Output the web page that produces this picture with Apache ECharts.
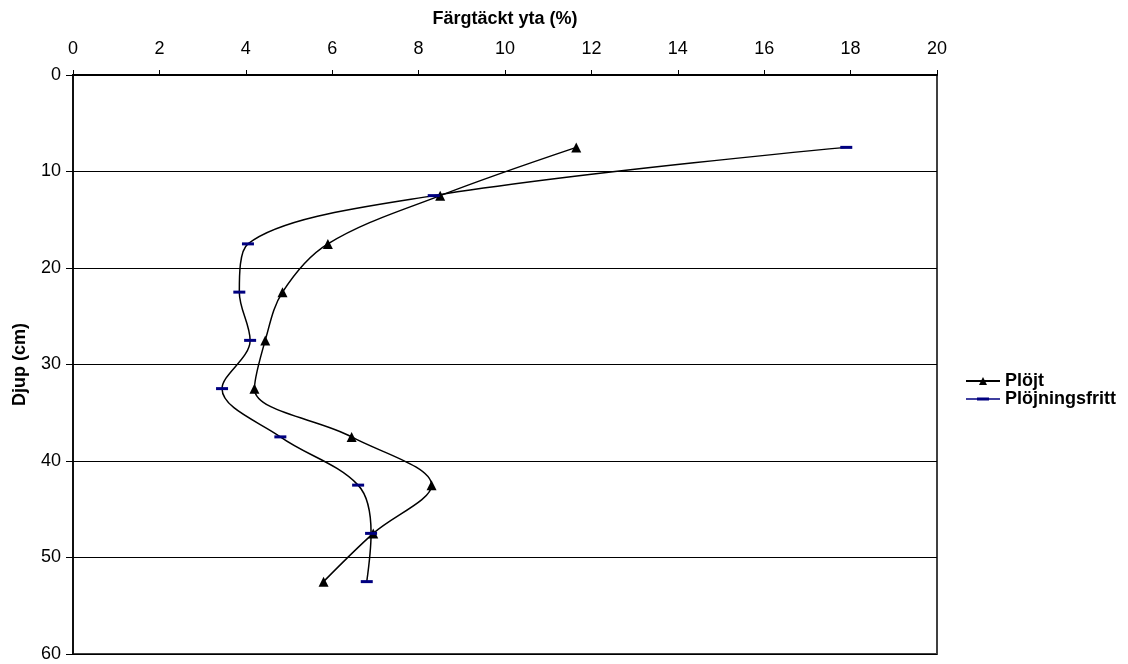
<!DOCTYPE html>
<html>
<head>
<meta charset="utf-8">
<script src="https://cdn.jsdelivr.net/npm/echarts@6/dist/echarts.min.js"></script>
<style>
html,body{margin:0;padding:0;background:#fff;}
#c{width:1128px;height:664px;}
</style>
</head>
<body>
<div id="c"></div>
<script>
const depths = [7.5, 12.5, 17.5, 22.5, 27.5, 32.5, 37.5, 42.5, 47.5, 52.5];
const plojt = [11.65, 8.5, 5.9, 4.85, 4.45, 4.2, 6.45, 8.3, 6.95, 5.8];
const plojningsfritt = [17.9, 8.35, 4.05, 3.85, 4.1, 3.45, 4.8, 6.6, 6.9, 6.8];
const xTicks = [0, 2, 4, 6, 8, 10, 12, 14, 16, 18, 20];
const yTicks = [0, 10, 20, 30, 40, 50, 60];

const font = 'Liberation Sans, Arial, sans-serif';
const chart = echarts.init(document.getElementById('c'));
chart.setOption({
  animation: false,
  backgroundColor: '#fff',
  grid: { left: 73, right: 191, top: 75, bottom: 10, show: true, borderColor: '#404040', borderWidth: 2, backgroundColor: 'transparent' },
  legend: {
    orient: 'vertical', left: 960, top: 367, itemGap: 0, itemWidth: 34, itemHeight: 10,
    textStyle: { fontFamily: font, fontWeight: 'bold', fontSize: 18, lineHeight: 18, color: '#000' },
    data: [
      { name: 'Plöjt' },
      { name: 'Plöjningsfritt', icon: 'path://M0,4.3 H34 V5.7 H0 Z M11,3.5 H23 V6.5 H11 Z' }
    ]
  },
  xAxis: {
    type: 'value', position: 'top', min: xTicks[0], max: xTicks[xTicks.length - 1], interval: 2,
    name: 'Färgtäckt yta (%)', nameLocation: 'middle', nameGap: 47,
    nameTextStyle: { fontFamily: font, fontWeight: 'bold', fontSize: 18, color: '#000' },
    axisLine: { lineStyle: { color: '#000', width: 2 } },
    axisTick: { length: 5, lineStyle: { color: '#000' } },
    axisLabel: { fontFamily: font, fontSize: 18, color: '#000', margin: 17 },
    splitLine: { show: false }
  },
  yAxis: {
    type: 'value', inverse: true, min: yTicks[0], max: yTicks[yTicks.length - 1], interval: 10,
    name: 'Djup (cm)', nameLocation: 'middle', nameGap: 44, nameRotate: 90,
    nameTextStyle: { fontFamily: font, fontWeight: 'bold', fontSize: 18, color: '#000' },
    axisLine: { lineStyle: { color: '#000', width: 1.5 } },
    axisTick: { length: 7, lineStyle: { color: '#000' } },
    axisLabel: { fontFamily: font, fontSize: 18, color: '#000', margin: 12 },
    splitLine: { show: true, lineStyle: { color: '#000', width: 1 } }
  },
  series: [
    {
      name: 'Plöjt', type: 'line', smooth: 0.35,
      data: depths.map((d, i) => [plojt[i], d]),
      symbol: 'triangle', symbolSize: 10,
      lineStyle: { color: '#000', width: 1.5 },
      itemStyle: { color: '#000' }
    },
    {
      name: 'Plöjningsfritt', type: 'line', smooth: 0.35,
      data: depths.map((d, i) => [plojningsfritt[i], d]),
      symbol: 'rect', symbolSize: [12, 3],
      lineStyle: { color: '#000', width: 1.5 },
      itemStyle: { color: '#000080' }
    }
  ]
});
</script>
</body>
</html>
